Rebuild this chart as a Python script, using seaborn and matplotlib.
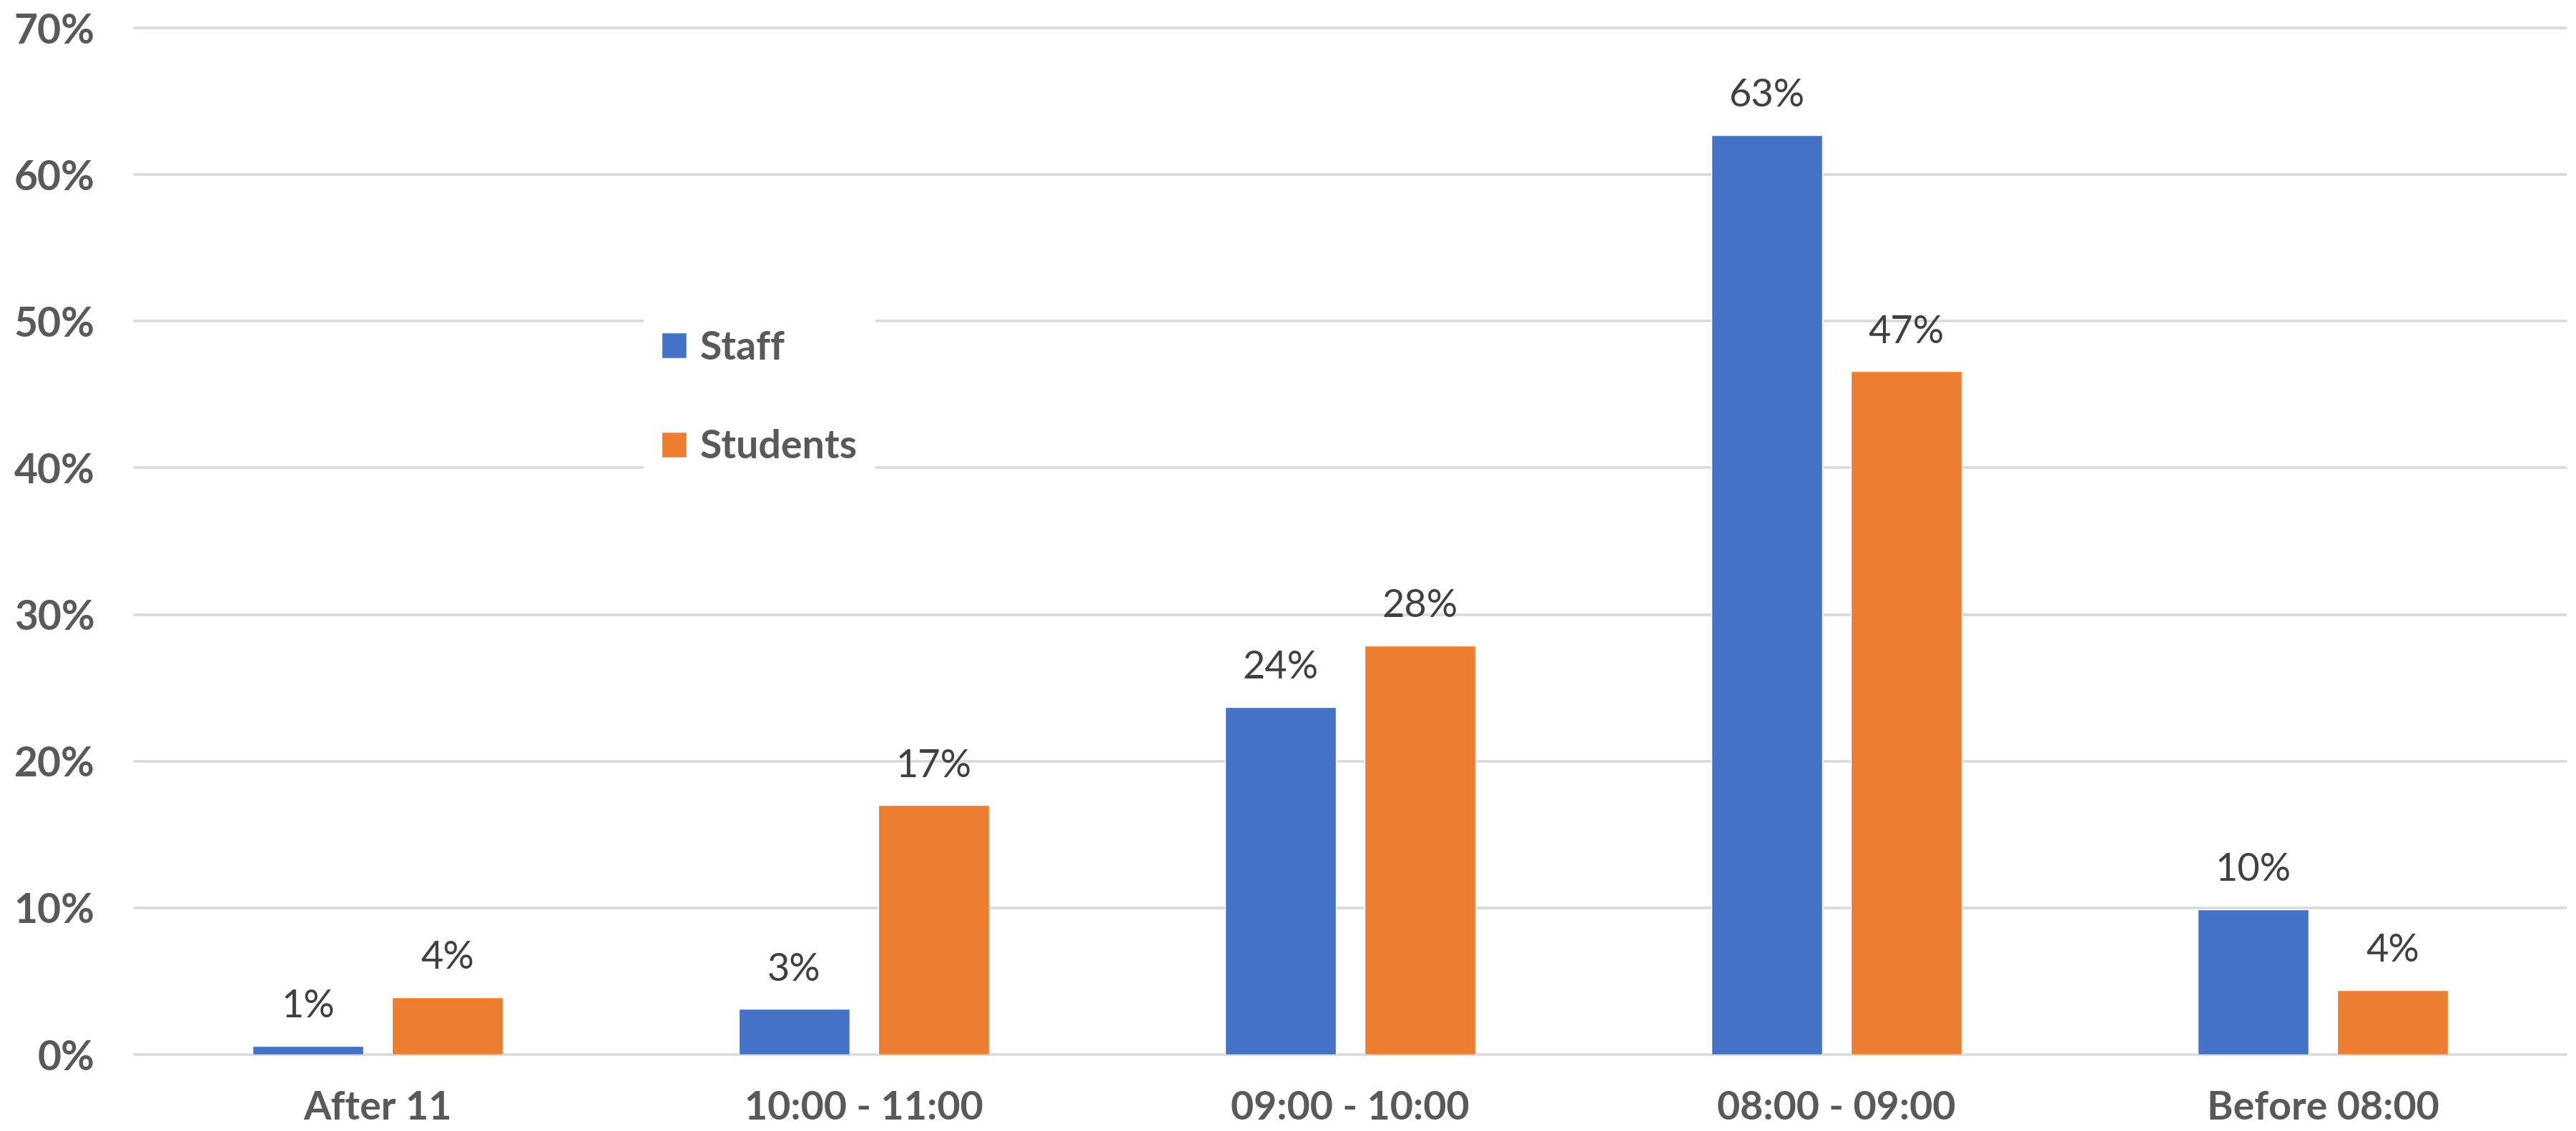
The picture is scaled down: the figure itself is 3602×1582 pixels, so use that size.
import matplotlib
matplotlib.use("Agg")
import matplotlib.pyplot as plt
import seaborn as sns
import pandas as pd

# Arrival time bands and share of respondents (%)
categories = ["After 11", "10:00 - 11:00", "09:00 - 10:00", "08:00 - 09:00", "Before 08:00"]
staff = [0.6, 3.1, 23.7, 62.7, 9.9]
students = [3.9, 17.0, 27.9, 46.6, 4.4]
groups = ["Staff", "Students"]
y_ticks = [0, 10, 20, 30, 40, 50, 60, 70]

colors = {"Staff": "#4472C4", "Students": "#ED7D31"}

df = pd.DataFrame({
    "Time": categories * 2,
    "Share": staff + students,
    "Group": [groups[0]] * len(categories) + [groups[1]] * len(categories),
})

sns.set_theme(style="white")
plt.rcParams["font.family"] = ["Lato", "DejaVu Sans"]

fig = plt.figure(figsize=(36.02, 15.82), dpi=100)
ax = fig.add_axes([0.0522, 0.0676, 0.9439, 0.9077])

sns.barplot(data=df, x="Time", y="Share", hue="Group", order=categories,
            hue_order=groups, palette=colors, width=0.5735, gap=0.205,
            saturation=1, errorbar=None, ax=ax, legend=True)

ax.set_ylim(0, 70)
ax.set_xlim(-0.5, len(categories) - 0.5)
ax.set_yticks(y_ticks)
ax.set_yticklabels([f"{t}%" for t in y_ticks])
ax.set_xlabel("")
ax.set_ylabel("")

ax.set_axisbelow(True)
ax.yaxis.grid(True, color="#D9D9D9", linewidth=2.6)
for gl in ax.get_ygridlines():
    gl.set_clip_on(False)
for s in ax.spines.values():
    s.set_visible(False)

ax.tick_params(axis="both", length=0, labelcolor="#595959")
ax.tick_params(axis="y", pad=40, labelsize=41)
ax.tick_params(axis="x", pad=36, labelsize=40)
for lab in ax.get_xticklabels() + ax.get_yticklabels():
    lab.set_fontweight("bold")

for cont in ax.containers:
    ax.bar_label(cont, labels=[f"{v:.0f}%" for v in cont.datavalues],
                 padding=22, fontsize=39, color="#404040")

handles, labels = ax.get_legend_handles_labels()
leg = ax.legend(handles, labels, loc="center left",
                bbox_to_anchor=(872 / 3602, 1 - 556 / 1582),
                bbox_transform=fig.transFigure,
                frameon=True, facecolor="white", edgecolor="none", framealpha=1,
                fancybox=False, prop={"weight": "bold", "size": 40},
                handlelength=0.63, handleheight=0.63, handletextpad=0.35,
                labelspacing=1.6, borderpad=0.45)
for t in leg.get_texts():
    t.set_color("#595959")

fig.savefig("out.png", dpi=100, facecolor="white")
